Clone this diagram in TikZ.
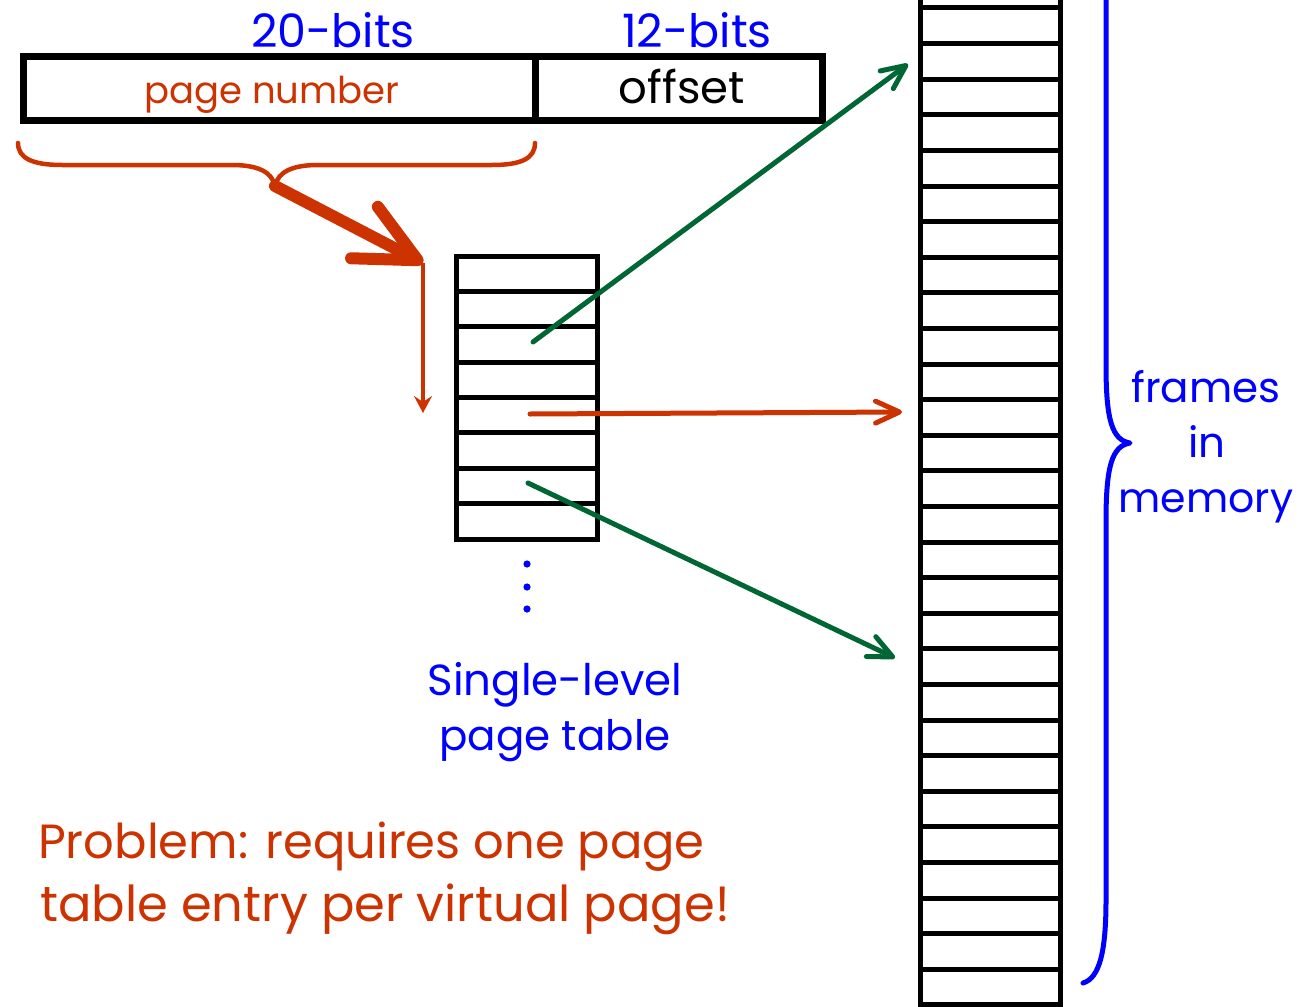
\documentclass[tikz,border=0pt]{standalone}
\usepackage{fontspec}
\setmainfont{Poppins}
\usetikzlibrary{arrows.meta}
\definecolor{brick}{RGB}{204,51,0}
\definecolor{leaf}{RGB}{0,102,51}
\definecolor{ink}{RGB}{0,0,255}

\tikzset{
  field/.style={draw=black, line width=7pt, inner sep=0pt, outer sep=0pt, anchor=north west},
  grid/.style={draw=black, line width=5pt, inner sep=0pt, outer sep=0pt, anchor=north west},
  rule/.style={black, line width=5pt},
  label/.style={inner sep=0pt, anchor=base},
  barb/.style={line width=5pt, line cap=round,
    -{Straight Barb[length=24pt, width=22pt, line cap=round, line join=round]}},
  bigbarb/.style={brick, line width=12pt, line cap=round,
    -{Straight Barb[length=60pt, width=58pt, line cap=round, line join=round]}},
  thin/.style={brick, line width=3.5pt,
    -{Stealth[length=17pt, width=18pt, inset=6pt]}},
  curly/.style={line width=4.5pt, line cap=round, line join=round},
}

\begin{document}
\begin{tikzpicture}[x=1pt, y=-1pt]
  \clip (0,0) rectangle (1308,1006);
  \fill[white] (0,0) rectangle (1308,1006);

  % virtual address: page number | offset
  \node[field, minimum width=512pt, minimum height=64pt] (pn) at (23,56.5) {};
  \node[field, minimum width=287pt, minimum height=64pt] (off) at (535,56.5) {};
  \node[label, ink, font=\fontsize{46}{50}\selectfont] (b20) at (333,48) {20-bits};
  \node[label, ink, font=\fontsize{46}{50}\selectfont] (b12) at (697,48) {12-bits};
  \node[label, brick, font=\fontsize{37}{41}\selectfont] (pnt) at (272,103) {page number};
  \node[label, black, font=\fontsize{45}{49}\selectfont] (offt) at (682,104) {offset};

  % brace under the page number
  \coordinate (btip) at (275,186);
  \draw[curly, brick] (18,143) .. controls (18,158) and (32,165) .. (62,165)
    -- (232,165) .. controls (258,165) and (272,172) .. (btip)
    .. controls (278,172) and (292,165) .. (318,165)
    -- (492,165) .. controls (522,165) and (535,158) .. (535,143);

  % single-level page table
  \node[grid, minimum width=141pt, minimum height=283pt] (pt) at (456,256) {};
  \foreach \k in {1,...,7}
    \draw[rule] (pt.west |- 0,{256+35.375*\k}) -- (pt.east |- 0,{256+35.375*\k});
  \foreach \k/\yy in {1/564,2/587,3/609}
    \fill[ink] (527,\yy) circle (3.6pt) coordinate (dot\k);
  \node[label, ink, font=\fontsize{43.5}{47}\selectfont] (slt) at (555,695) {Single-level};
  \node[label, ink, font=\fontsize{42}{46}\selectfont] (ptt) at (555,750) {page table};

  % physical memory frames
  \node[grid, minimum width=140pt, minimum height=1060pt] (mem) at (920.5,-25) {};
  \foreach \k in {0,...,28}
    \draw[rule] (mem.west |- 0,{8+35.6*\k}) -- (mem.east |- 0,{8+35.6*\k});

  % brace beside the frames
  \coordinate (mtip) at (1130,443);
  \draw[curly, ink, line width=5pt] (1106,-10) -- (1106,365)
    .. controls (1106,420) and (1112,440) .. (mtip)
    .. controls (1112,446) and (1106,466) .. (1106,521)
    -- (1106,900) .. controls (1106,950) and (1100,978) .. (1083,983);
  \node[label, ink, font=\fontsize{42}{46}\selectfont] (fr) at (1206,402) {frames};
  \node[label, ink, font=\fontsize{42}{46}\selectfont] (in) at (1207,457) {in};
  \node[label, ink, font=\fontsize{41}{45}\selectfont] (me) at (1206,512) {memory};

  % index into the table
  \coordinate (idx) at (423,263);
  \coordinate (idxend) at (423,413);
  \draw[bigbarb] (btip) -- (idx);
  \draw[thin] (idx) -- (idxend);

  % table entries pointing to frames
  \coordinate (e3) at (533,342);
  \coordinate (e5) at (530,414);
  \coordinate (e7) at (528,483);
  \coordinate (f2) at (908,64);
  \coordinate (f12) at (902,412);
  \coordinate (f19) at (895,658);
  \draw[barb, leaf] (e3) -- (f2);
  \draw[barb, brick] (e5) -- (f12);
  \draw[barb, leaf] (e7) -- (f19);

  % note
  \node[label, brick, anchor=base west, font=\fontsize{48}{52}\selectfont] (n1) at (38,858) {Problem: requires one page};
  \node[label, brick, anchor=base west, font=\fontsize{49.5}{54}\selectfont] (n2) at (40,921) {table entry per virtual page!};
\end{tikzpicture}
\end{document}
